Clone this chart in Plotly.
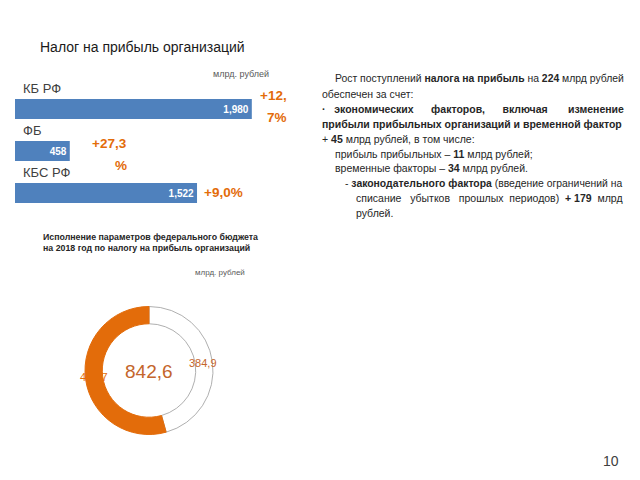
import plotly.graph_objects as go

# ---- data ----
bar_categories = ["КБ РФ", "ФБ", "КБС РФ"]
bar_values = [1980, 458, 1522]
growth_labels = ["+12,<br>7%", "+27,3<br>%", "+9,0%"]
growth_xshift = [37, 59, 48]
growth_yshift = [3, -3, 1]

donut_labels = ["Остаток", "Исполнено"]
donut_values = [384.9, 457.7]
donut_total_label = "842,6"

title_text = "Налог на прибыль организаций"
unit_text = "млрд. рублей"
donut_title = ("<b>Исполнение параметров федерального бюджета</b><br>"
               "<b>на 2018 год по налогу на прибыль организаций</b>")
page_number = "10"

NB = "\u00a0"
body_lines = [
    "Рост поступлений <b>налога на прибыль</b> на <b>224</b> млрд рублей",
    "обеспечен за счет:",
    "<b>·" + NB * 3 + "экономических" + NB * 6 + "факторов," + NB * 6 + "включая" + NB * 7 + "изменение</b>",
    "<b>прибыли прибыльных организаций и временной фактор</b>",
    "+ <b>45</b> млрд рублей, в том числе:",
    "прибыль прибыльных – <b>11</b> млрд рублей;",
    "временные факторы – <b>34</b> млрд рублей.",
    "- <b>законодательного фактора</b> (введение ограничений на",
    "списание" + NB * 3 + "убытков" + NB * 3 + "прошлых" + NB * 2 + "периодов)" + NB * 2 + "<b>+ 179</b>" + NB * 2 + "млрд",
    "рублей.",
]
body_x = [333, 320, 320, 320, 320, 333, 333, 343, 354, 354]
body_size = [10.4, 10.5, 10.5, 10.5, 10.5, 10.5, 10.5, 10.4, 10.5, 10.5]

BLUE = "#4F81BD"
ORANGE = "#E36C0A"
LABEL_ORANGE = "#C4652B"
FONT = "Liberation Sans, Arial, sans-serif"

W, H = 640, 480
def px(x):
    return x / W
def py(y):
    return 1 - y / H

fig = go.Figure()

fig.add_trace(go.Bar(
    x=bar_values, y=bar_categories, orientation="h",
    marker=dict(color=BLUE, line=dict(width=0)),
    width=0.48,
    texttemplate="%{x:,}", textposition="inside", insidetextanchor="end",
    textfont=dict(color="white", size=10, family=FONT, weight="bold"),
    hoverinfo="skip", showlegend=False,
    xaxis="x", yaxis="y",
))

fig.add_trace(go.Pie(
    labels=donut_labels, values=donut_values, hole=0.73,
    sort=False, direction="clockwise", rotation=0,
    marker=dict(colors=["white", ORANGE],
                line=dict(color=["#9A9A9A", ORANGE], width=[0.8, 1])),
    textinfo="none", hoverinfo="skip", showlegend=False,
    domain=dict(x=[px(85), px(213)], y=[py(435), py(306)]),
))

annotations = []
for cat in bar_categories:
    annotations.append(dict(x=0, y=cat, xref="x", yref="y", text=cat,
                            xanchor="left", yanchor="middle", xshift=6, yshift=21,
                            showarrow=False, font=dict(size=13, color="#404040", family=FONT)))
LINE_H = 22
for cat, val, lab, sh, ys in zip(bar_categories, bar_values, growth_labels,
                                 growth_xshift, growth_yshift):
    parts = lab.split("<br>")
    n = len(parts)
    for k, part in enumerate(parts):
        off = ys + ((n - 1) / 2 - k) * LINE_H
        annotations.append(dict(x=val, y=cat, xref="x", yref="y", text=part,
                                xanchor="right", yanchor="middle",
                                xshift=sh, yshift=off, showarrow=False,
                                font=dict(size=13.5, color=ORANGE, family=FONT, weight="bold")))

annotations.append(dict(x=px(38), y=py(47), xref="paper", yref="paper", text=title_text,
                        xanchor="left", yanchor="middle", showarrow=False,
                        font=dict(size=14, color="#1a1a1a", family=FONT)))
annotations.append(dict(x=px(211), y=py(74), xref="paper", yref="paper", text=unit_text,
                        xanchor="left", yanchor="middle", showarrow=False,
                        font=dict(size=9, color="#595959", family=FONT)))

y0, dy = 79, 14.9
for i, (line, lx, fs) in enumerate(zip(body_lines, body_x, body_size)):
    annotations.append(dict(x=px(lx), y=py(y0 + i * dy), xref="paper", yref="paper", text=line,
                            xanchor="left", yanchor="middle", showarrow=False,
                            font=dict(size=fs, color="#262626", family=FONT)))

annotations.append(dict(x=px(41), y=py(242), xref="paper", yref="paper", text=donut_title,
                        xanchor="left", yanchor="middle", align="left", showarrow=False,
                        font=dict(size=8.8, color="#262626", family=FONT)))
annotations.append(dict(x=px(193), y=py(272), xref="paper", yref="paper", text=unit_text,
                        xanchor="left", yanchor="middle", showarrow=False,
                        font=dict(size=8, color="#595959", family=FONT)))
annotations.append(dict(x=px(149), y=py(371), xref="paper", yref="paper", text=donut_total_label,
                        xanchor="center", yanchor="middle", showarrow=False,
                        font=dict(size=19, color=LABEL_ORANGE, family=FONT)))
annotations.append(dict(x=px(94), y=py(377), xref="paper", yref="paper",
                        text=f"{donut_values[1]:.1f}".replace(".", ","),
                        xanchor="center", yanchor="middle", showarrow=False,
                        font=dict(size=11, color=ORANGE, family=FONT)))
annotations.append(dict(x=px(203), y=py(363), xref="paper", yref="paper",
                        text=f"{donut_values[0]:.1f}".replace(".", ","),
                        xanchor="center", yanchor="middle", showarrow=False,
                        font=dict(size=11, color=LABEL_ORANGE, family=FONT)))
annotations.append(dict(x=px(621), y=py(461), xref="paper", yref="paper", text=page_number,
                        xanchor="right", yanchor="middle", showarrow=False,
                        font=dict(size=14, color="#404040", family=FONT)))

fig.update_layout(
    width=W, height=H,
    margin=dict(l=0, r=0, t=0, b=0),
    paper_bgcolor="white", plot_bgcolor="white",
    xaxis=dict(domain=[px(15), px(314)], range=[0, 2500], visible=False, fixedrange=True),
    yaxis=dict(domain=[py(214), py(88)], range=[2.5, -0.5], visible=False, fixedrange=True),
    annotations=annotations,
    showlegend=False,
)

fig.write_html("out.html", config={"displayModeBar": False},
               post_script="document.body.style.margin='0';")
